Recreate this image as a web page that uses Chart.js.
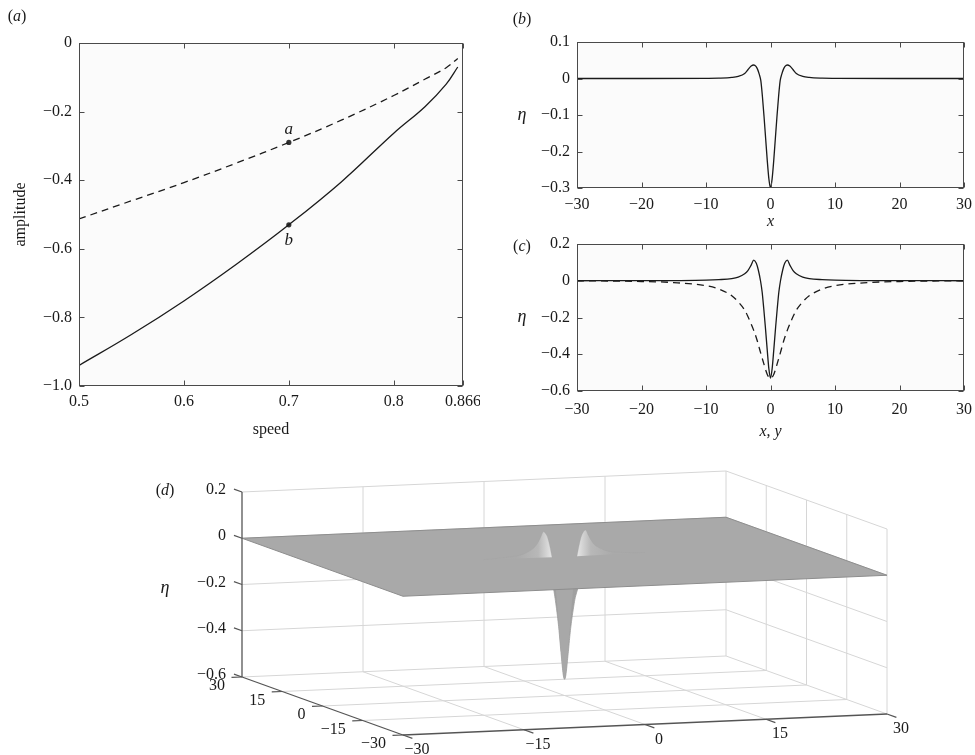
<!DOCTYPE html>
<html>
<head>
<meta charset="utf-8">
<script src="https://cdn.jsdelivr.net/npm/chart.js@4.4.0/dist/chart.umd.min.js"></script>
<style>
  body { margin: 0; background: #fff; width: 975px; height: 755px; position: relative; overflow: hidden; }
  canvas { position: absolute; }
</style>
</head>
<body>
<canvas id="chart-a" width="480" height="450" style="left:0;top:0"></canvas>
<canvas id="chart-b" width="485" height="235" style="left:490px;top:0"></canvas>
<canvas id="chart-c" width="485" height="215" style="left:490px;top:235px"></canvas>
<canvas id="chart-d" width="975" height="300" style="left:0;top:455px"></canvas>
<script>
// ---- data ----
// (a) amplitude vs speed
const speed     = [0.5, 0.55, 0.6, 0.65, 0.7, 0.75, 0.8, 0.83, 0.85, 0.861];
const ampDashed = [-0.513, -0.46, -0.407, -0.35, -0.29, -0.225, -0.153, -0.105, -0.072, -0.045];
const ampSolid  = [-0.94, -0.85, -0.752, -0.645, -0.53, -0.405, -0.263, -0.185, -0.12, -0.07];
const markSpeed = [0.7, 0.7];
const markAmp   = [-0.29, -0.53];
const markNames = ['a', 'b'];

// (b) profile along x
const xB   = [-30, -20, -10, -8, -6, -5, -4, -3.5, -3, -2.6, -2.25, -2, -1.75, -1.5, -1.25, -1, -0.75, -0.5, -0.25, 0,
              0.25, 0.5, 0.75, 1, 1.25, 1.5, 1.75, 2, 2.25, 2.6, 3, 3.5, 4, 5, 6, 8, 10, 20, 30];
const etaB = [0, 0, 0.0005, 0.001, 0.003, 0.006, 0.014, 0.024, 0.034, 0.037, 0.033, 0.025, 0.012, -0.006, -0.05, -0.105, -0.165, -0.225, -0.275, -0.3,
              -0.275, -0.225, -0.165, -0.105, -0.05, -0.006, 0.012, 0.025, 0.033, 0.037, 0.034, 0.024, 0.014, 0.006, 0.003, 0.001, 0.0005, 0, 0];

// (c) profiles along x (solid) and y (dashed); (d) uses them as the y = 0 and x = 0 slices
const xC    = [-30, -20, -15, -10, -8, -6, -5, -4, -3.5, -3, -2.6, -2.2, -1.9, -1.55, -1.3, -1.05, -0.8, -0.5, -0.25, 0,
               0.25, 0.5, 0.8, 1.05, 1.3, 1.55, 1.9, 2.2, 2.6, 3, 3.5, 4, 5, 6, 8, 10, 15, 20, 30];
const etaCx = [0, 0.0005, 0.001, 0.003, 0.006, 0.012, 0.02, 0.038, 0.055, 0.085, 0.112, 0.095, 0.06, 0, -0.06, -0.15, -0.25, -0.38, -0.48, -0.53,
               -0.48, -0.38, -0.25, -0.15, -0.06, 0, 0.06, 0.095, 0.112, 0.085, 0.055, 0.038, 0.02, 0.012, 0.006, 0.003, 0.001, 0.0005, 0];
const etaCy = [0, -0.004, -0.01, -0.027, -0.045, -0.082, -0.115, -0.16, -0.195, -0.235, -0.27, -0.31, -0.345, -0.39, -0.42, -0.45, -0.48, -0.51, -0.525, -0.53,
               -0.525, -0.51, -0.48, -0.45, -0.42, -0.39, -0.345, -0.31, -0.27, -0.235, -0.195, -0.16, -0.115, -0.082, -0.045, -0.027, -0.01, -0.004, 0];

// tick labels
const speedTicks = [0.5, 0.6, 0.7, 0.8, 0.866];
const speedTickLabels = ['0.5', '0.6', '0.7', '0.8', '0.866'];
const ampTicks = [0, -0.2, -0.4, -0.6, -0.8, -1.0];
const ampTickLabels = ['0', '\u22120.2', '\u22120.4', '\u22120.6', '\u22120.8', '\u22121.0'];
const xTicks = [-30, -20, -10, 0, 10, 20, 30];
const xTickLabels = ['\u221230', '\u221220', '\u221210', '0', '10', '20', '30'];
const etaBTicks = [0.1, 0, -0.1, -0.2, -0.3];
const etaBTickLabels = ['0.1', '0', '\u22120.1', '\u22120.2', '\u22120.3'];
const etaCTicks = [0.2, 0, -0.2, -0.4, -0.6];
const etaCTickLabels = ['0.2', '0', '\u22120.2', '\u22120.4', '\u22120.6'];
const boxTicks = [-30, -15, 0, 15, 30];
const boxTickLabels = ['\u221230', '\u221215', '0', '15', '30'];
const zTicks = [0.2, 0, -0.2, -0.4, -0.6];
const zTickLabels = ['0.2', '0', '\u22120.2', '\u22120.4', '\u22120.6'];

// ---- shared setup ----
const SERIF = '"Liberation Serif", "Times New Roman", serif';
Chart.defaults.font.family = SERIF;
Chart.defaults.font.size = 16;
Chart.defaults.color = '#1a1a1a';
Chart.defaults.animation = false;
Chart.defaults.events = [];
Chart.defaults.plugins.legend.display = false;
Chart.defaults.plugins.tooltip.enabled = false;

const INK = '#1a1a1a';

function pts(xs, ys) { return xs.map((v, i) => ({ x: v, y: ys[i] })); }

// mixed upright / italic text, e.g. [['(', 0], ['a', 1], [')', 0]]
function rich(ctx, parts, x, y, align, size) {
  size = size || 16;
  const fonts = parts.map(p => (p[1] ? 'italic ' : '') + size + 'px ' + SERIF);
  let w = 0;
  parts.forEach((p, i) => { ctx.font = fonts[i]; w += ctx.measureText(p[0]).width; });
  let cx = align === 'center' ? x - w / 2 : align === 'right' ? x - w : x;
  ctx.save();
  ctx.fillStyle = INK;
  ctx.textBaseline = 'middle';
  ctx.textAlign = 'left';
  parts.forEach((p, i) => { ctx.font = fonts[i]; ctx.fillText(p[0], cx, y); cx += ctx.measureText(p[0]).width; });
  ctx.restore();
}

// matlab-style box: light plot background, frame, inward ticks on all sides
const matlabBox = {
  id: 'matlabBox',
  beforeDraw(chart) {
    const { ctx, chartArea: a } = chart;
    ctx.save();
    ctx.fillStyle = '#fbfbfb';
    ctx.fillRect(a.left, a.top, a.right - a.left, a.bottom - a.top);
    ctx.restore();
  },
  afterDraw(chart) {
    const { ctx, chartArea: a, scales: { x, y } } = chart;
    const L = Math.round(a.left) + 0.5, R = Math.round(a.right) - 0.5;
    const T = Math.round(a.top) + 0.5, B = Math.round(a.bottom) - 0.5;
    ctx.save();
    ctx.strokeStyle = '#4a4a4a';
    ctx.lineWidth = 1;
    ctx.strokeRect(L, T, R - L, B - T);
    ctx.beginPath();
    x.ticks.forEach(t => {
      const px = Math.round(x.getPixelForValue(t.value)) + 0.5;
      ctx.moveTo(px, B); ctx.lineTo(px, B - 5);
      ctx.moveTo(px, T); ctx.lineTo(px, T + 5);
    });
    y.ticks.forEach(t => {
      const py = Math.round(y.getPixelForValue(t.value)) + 0.5;
      ctx.moveTo(L, py); ctx.lineTo(L + 5, py);
      ctx.moveTo(R, py); ctx.lineTo(R - 5, py);
    });
    ctx.stroke();
    ctx.restore();
  }
};

// fixed-size axes; label overhang is not allowed to shrink the plot box
function axisX(min, max, ticks, labels, height, pad) {
  return {
    type: 'linear', min, max,
    grid: { display: false, drawTicks: false }, border: { display: false },
    afterBuildTicks: s => { s.ticks = ticks.map(v => ({ value: v })); },
    afterFit: s => { s.height = height; s.paddingLeft = 0; s.paddingRight = 0; },
    ticks: { padding: pad, maxRotation: 0, autoSkip: false, callback: (v, i) => labels[i] }
  };
}
function axisY(min, max, ticks, labels, width) {
  return {
    type: 'linear', min, max,
    grid: { display: false, drawTicks: false }, border: { display: false },
    afterBuildTicks: s => { s.ticks = ticks.map(v => ({ value: v })); },
    afterFit: s => { s.width = width; s.paddingTop = 0; s.paddingBottom = 0; },
    ticks: { padding: 7, autoSkip: false, callback: (v, i) => labels[i] }
  };
}
function curve(data, dashed, mono) {
  return {
    data, borderColor: INK, borderWidth: 1.3, pointRadius: 0, fill: false,
    borderDash: dashed ? [7, 5] : [],
    tension: mono ? 0 : 0.4,
    cubicInterpolationMode: mono ? 'monotone' : 'default'
  };
}

// ---- (a) ----
new Chart(document.getElementById('chart-a'), {
  type: 'line',
  data: {
    datasets: [
      curve(pts(speed, ampDashed), true, false),
      curve(pts(speed, ampSolid), false, false),
      { data: pts(markSpeed, markAmp), showLine: false, pointRadius: 2.6, backgroundColor: '#333', borderWidth: 0 }
    ]
  },
  options: {
    responsive: false,
    layout: { padding: { top: 43, right: 17, left: 0, bottom: 0 } },
    scales: {
      x: axisX(0.5, 0.866, speedTicks, speedTickLabels, 64, 6),
      y: axisY(-1, 0, ampTicks, ampTickLabels, 79)
    }
  },
  plugins: [matlabBox, {
    id: 'labelsA',
    afterDraw(chart) {
      const { ctx, scales: { x, y } } = chart;
      rich(ctx, [['(', 0], ['a', 1], [')', 0]], 17, 17, 'center');
      rich(ctx, [['speed', 0]], (chart.chartArea.left + chart.chartArea.right) / 2, 430, 'center');
      ctx.save();
      ctx.translate(21, (chart.chartArea.top + chart.chartArea.bottom) / 2);
      ctx.rotate(-Math.PI / 2);
      rich(ctx, [['amplitude', 0]], 0, 0, 'center');
      ctx.restore();
      markNames.forEach((n, i) => {
        const px = x.getPixelForValue(markSpeed[i]);
        const py = y.getPixelForValue(markAmp[i]);
        rich(ctx, [[n, 1]], px, i === 0 ? py - 13 : py + 16, 'center', 17);
      });
    }
  }]
});

// ---- (b) ----
new Chart(document.getElementById('chart-b'), {
  type: 'line',
  data: { datasets: [curve(pts(xB, etaB), false, true)] },
  options: {
    responsive: false,
    layout: { padding: { top: 42, right: 11, left: 0, bottom: 0 } },
    scales: {
      x: axisX(-30, 30, xTicks, xTickLabels, 47, 7),
      y: axisY(-0.3, 0.1, etaBTicks, etaBTickLabels, 87)
    }
  },
  plugins: [matlabBox, {
    id: 'labelsB',
    afterDraw(chart) {
      const { ctx, scales: { x, y } } = chart;
      rich(ctx, [['(', 0], ['b', 1], [')', 0]], 32, 20, 'center');
      rich(ctx, [['\u03b7', 1]], 32, y.getPixelForValue(-0.1), 'center', 18);
      rich(ctx, [['x', 1]], x.getPixelForValue(0), 222, 'center');
    }
  }]
});

// ---- (c) ----
new Chart(document.getElementById('chart-c'), {
  type: 'line',
  data: { datasets: [curve(pts(xC, etaCx), false, true), curve(pts(xC, etaCy), true, true)] },
  options: {
    responsive: false,
    layout: { padding: { top: 9, right: 11, left: 0, bottom: 0 } },
    scales: {
      x: axisX(-30, 30, xTicks, xTickLabels, 59, 9),
      y: axisY(-0.6, 0.2, etaCTicks, etaCTickLabels, 87)
    }
  },
  plugins: [matlabBox, {
    id: 'labelsC',
    afterDraw(chart) {
      const { ctx, scales: { x, y } } = chart;
      rich(ctx, [['(', 0], ['c', 1], [')', 0]], 32, 12, 'center');
      rich(ctx, [['\u03b7', 1]], 32, y.getPixelForValue(-0.2), 'center', 18);
      rich(ctx, [['x', 1], [', ', 0], ['y', 1]], x.getPixelForValue(0), 197, 'center');
    }
  }]
});

// ---- (d) 3-D view of the surface ----
// view: page-pixel projection of the box (floor centre, pixels per unit along x, y, z)
const view = { cx: 564.5, cy: 695.5, ex: [8.067, -0.35], ey: [-2.683, -0.967], ez: -231.25, zFloor: -0.6 };
function P(x, y, z) {
  return {
    x: view.cx + x * view.ex[0] + y * view.ey[0],
    y: view.cy + x * view.ex[1] + y * view.ey[1] + (z - view.zFloor) * view.ez
  };
}

const dsD = [];
function addLine(p, color, width) {
  dsD.push({ data: p, borderColor: color, borderWidth: width, pointRadius: 0, fill: false, tension: 0 });
}
const GRID = '#d6d6d6', AXC = '#555';
const zTop = zTicks[0], zBot = zTicks[zTicks.length - 1];
const lo = boxTicks[0], hi = boxTicks[boxTicks.length - 1];

// back wall (y = hi), right wall (x = hi), floor grid
zTicks.forEach(z => addLine([P(lo, hi, z), P(hi, hi, z), P(hi, lo, z)], GRID, 1));
boxTicks.slice(1).forEach(v => addLine([P(v, hi, zBot), P(v, hi, zTop)], GRID, 1));
boxTicks.slice(0, 4).forEach(v => addLine([P(hi, v, zBot), P(hi, v, zTop)], GRID, 1));
boxTicks.slice(1, 4).forEach(v => {
  addLine([P(v, lo, zBot), P(v, hi, zBot)], GRID, 1);
  addLine([P(lo, v, zBot), P(hi, v, zBot)], GRID, 1);
});

// trough below the sheet: x = 0 slice and y = 0 slice (negative parts)
const troughY = [], troughX = [];
xC.forEach((v, i) => {
  if (Math.abs(v) <= 10) troughY.push(P(0, v, etaCy[i]));
  if (etaCx[i] <= 0) troughX.push(P(v, 0, etaCx[i]));
});
dsD.push({ data: troughY, fill: 'shape', backgroundColor: '#a0a0a0', borderColor: '#9c9c9c', borderWidth: 0.8, pointRadius: 0, tension: 0.2 });
dsD.push({ data: troughX, fill: 'shape', backgroundColor: '#a8a8a8', borderColor: 'rgba(0,0,0,0)', borderWidth: 0, pointRadius: 0, tension: 0.25 });

// flat sheet at eta = 0
dsD.push({
  data: [P(lo, lo, 0), P(hi, lo, 0), P(hi, hi, 0), P(lo, hi, 0), P(lo, lo, 0)],
  fill: 'shape', backgroundColor: '#a9a9a9', borderColor: '#8d8d8d', borderWidth: 1, pointRadius: 0, tension: 0
});

// two crests (y = 0 slice, positive part)
function crest(side) {
  const p = [];
  xC.forEach((v, i) => {
    if (etaCx[i] >= 0 && Math.abs(v) <= 10 && Math.sign(v) === side) p.push(P(v, 0, etaCx[i]));
  });
  return p;
}
function crestFill(side) {
  return (c) => {
    const chart = c.chart;
    if (!chart.chartArea) return '#b8b8b8';
    const sx = chart.scales.x;
    let iMax = 0;
    xC.forEach((v, i) => { if (Math.sign(v) === side && etaCx[i] > etaCx[iMax]) iMax = i; });
    const inner0 = xC.find((v, i) => Math.sign(v) === side && etaCx[i] === 0 && Math.abs(v) < 3);
    const outer = sx.getPixelForValue(P(6 * side, 0, 0).x);
    const apex = sx.getPixelForValue(P(xC[iMax], 0, 0).x);
    const inner = sx.getPixelForValue(P(inner0, 0, 0).x);
    const g = chart.ctx.createLinearGradient(outer, 0, inner, 0);
    const t = (apex - outer) / (inner - outer);
    g.addColorStop(0, '#aaaaaa');
    g.addColorStop(Math.max(0, t - 0.15), '#b8b8b8');
    g.addColorStop(Math.min(1, t + 0.25), '#e6e6e6');
    g.addColorStop(1, '#c2c2c2');
    return g;
  };
}
[-1, 1].forEach(side => {
  dsD.push({ data: crest(side), fill: 'shape', backgroundColor: crestFill(side), borderColor: 'rgba(160,160,160,0.5)', borderWidth: 0.5, pointRadius: 0, tension: 0.3 });
});

// front axes with ticks
addLine([P(lo, hi, zBot), P(lo, hi, zTop)], AXC, 1.3);
addLine([P(lo, hi, zBot), P(lo, lo, zBot)], AXC, 1.3);
addLine([P(lo, lo, zBot), P(hi, lo, zBot)], AXC, 1.3);
zTicks.forEach(z => addLine([P(lo, hi, z), P(lo, hi + 3, z)], AXC, 1.2));
boxTicks.forEach(v => addLine([P(lo, v, zBot), P(lo - 1.3, v, zBot)], AXC, 1.2));
boxTicks.forEach(v => addLine([P(v, lo, zBot), P(v, lo - 3.5, zBot)], AXC, 1.2));

dsD.forEach((d, i) => { d.order = dsD.length - i; });

new Chart(document.getElementById('chart-d'), {
  type: 'line',
  data: { datasets: dsD },
  options: {
    responsive: false,
    layout: { padding: 0 },
    scales: {
      x: { type: 'linear', display: false, min: 0, max: 975 },
      y: { type: 'linear', display: false, min: 455, max: 755, reverse: true }
    }
  },
  plugins: [{
    id: 'labelsD',
    afterDraw(chart) {
      const { ctx, scales: { x, y } } = chart;
      const px = p => ({ x: x.getPixelForValue(p.x), y: y.getPixelForValue(p.y) });
      zTicks.forEach((z, i) => {
        const q = px(P(lo, hi, z));
        rich(ctx, [[zTickLabels[i], 0]], q.x - 16, q.y - 2, 'right');
      });
      boxTicks.forEach((v, i) => {
        const q = px(P(lo, v, zBot));
        rich(ctx, [[boxTickLabels[i], 0]], q.x - 17, q.y + 9, 'right');
        const r = px(P(v, lo, zBot));
        rich(ctx, [[boxTickLabels[i], 0]], r.x + 14, r.y + 15, 'center');
      });
      const top = px(P(lo, hi, zTop));
      rich(ctx, [['(', 0], ['d', 1], [')', 0]], 165, top.y - 1, 'center');
      const mid = px(P(lo, hi, -0.2));
      rich(ctx, [['\u03b7', 1]], 165, mid.y + 4, 'center', 18);
    }
  }]
});
</script>
</body>
</html>
